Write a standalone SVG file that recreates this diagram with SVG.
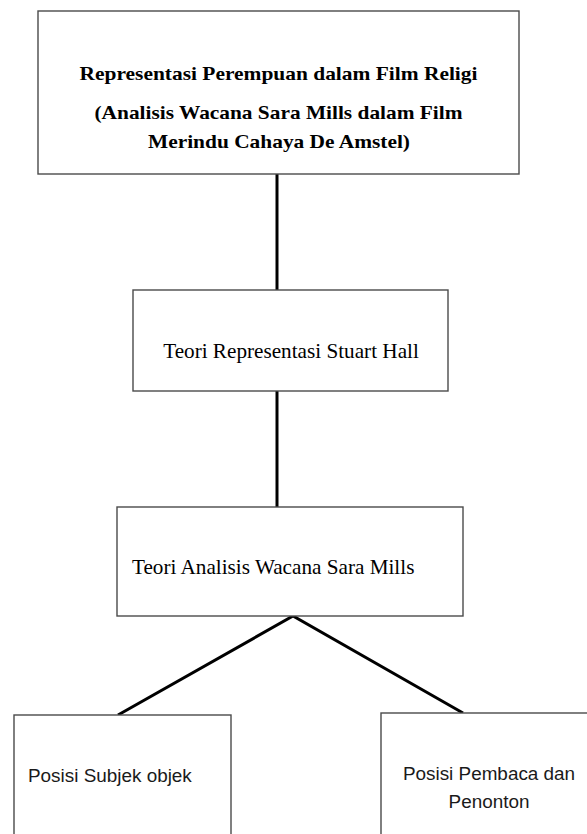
<svg xmlns="http://www.w3.org/2000/svg" width="587" height="834" viewBox="0 0 587 834">
<style>
.box{fill:#fff;stroke:#4a4a4a;stroke-width:1.4}
.conn{stroke:#000;stroke-width:3;fill:none}
.tb{font-family:"Liberation Serif","Times New Roman",serif;font-weight:bold;font-size:19.5px;fill:#000}
.tr{font-family:"Liberation Serif","Times New Roman",serif;font-size:21.2px;fill:#000}
.ts{font-family:"Liberation Sans",Arial,sans-serif;font-size:18.9px;fill:#1a1a1a}
</style>
<rect width="587" height="834" fill="#fff"/>
<g id="connectors">
<line class="conn" x1="277" y1="174" x2="277" y2="290"/>
<line class="conn" x1="277" y1="391" x2="277" y2="507"/>
<polyline class="conn" points="118,715 293,616 463,713"/>
</g>
<g id="n1">
<rect class="box" x="38" y="11" width="481" height="163"/>
<text class="tb" x="278.5" y="80" text-anchor="middle" textLength="398" lengthAdjust="spacingAndGlyphs">Representasi Perempuan dalam Film Religi</text>
<text class="tb" x="278.5" y="119" text-anchor="middle" textLength="368" lengthAdjust="spacingAndGlyphs">(Analisis Wacana Sara Mills dalam Film</text>
<text class="tb" x="279" y="148" text-anchor="middle" textLength="262" lengthAdjust="spacingAndGlyphs">Merindu Cahaya De Amstel)</text>
</g>
<g id="n2">
<rect class="box" x="133" y="290" width="315" height="101"/>
<text class="tr" x="291" y="358" text-anchor="middle">Teori Representasi Stuart Hall</text>
</g>
<g id="n3">
<rect class="box" x="117" y="507" width="346" height="109"/>
<text class="tr" x="132" y="574">Teori Analisis Wacana Sara Mills</text>
</g>
<g id="n4">
<rect class="box" x="14" y="715" width="217" height="130"/>
<text class="ts" x="28" y="782">Posisi Subjek objek</text>
</g>
<g id="n5">
<rect class="box" x="381" y="713" width="230" height="130"/>
<text class="ts" x="489" y="780" text-anchor="middle">Posisi Pembaca dan</text>
<text class="ts" x="489" y="808" text-anchor="middle">Penonton</text>
</g>
</svg>
